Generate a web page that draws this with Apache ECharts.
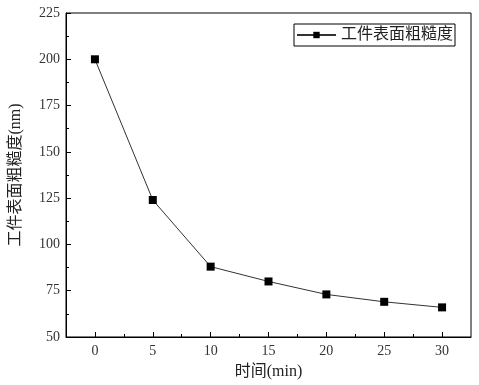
<!DOCTYPE html>
<html>
<head>
<meta charset="utf-8">
<script src="https://cdn.jsdelivr.net/npm/echarts@6/dist/echarts.min.js"></script>
<style>html,body{margin:0;padding:0;background:#fff;}#c{width:479px;height:385px;}</style>
</head>
<body>
<div id="c"></div>
<script>
const times = [0, 5, 10, 15, 20, 25, 30];
const roughness = [200, 124, 88, 80, 73, 69, 66];
const xMajorTicks = [0, 5, 10, 15, 20, 25, 30];
const xMinorTicks = [2.5, 7.5, 12.5, 17.5, 22.5, 27.5];
const seriesName = '工件表面粗糙度';
const xName = '时间(min)';
const yName = '工件表面粗糙度(nm)';

const FONT = "'Liberation Serif','Noto Sans CJK SC'";
const chart = echarts.init(document.getElementById('c'), null, {renderer: 'canvas'});
chart.setOption({
  animation: false,
  backgroundColor: '#fff',
  grid: {left: 65, right: 8, top: 13, bottom: 45, show: true, borderColor: '#000', borderWidth: 1, backgroundColor: 'transparent'},
  legend: {
    left: 294, top: 24,
    padding: [3, 2, 3, 2],
    borderColor: '#000', borderWidth: 1,
    itemWidth: 39, itemHeight: 8,
    textStyle: {fontSize: 16, color: '#222', fontFamily: FONT},
    data: [seriesName]
  },
  xAxis: [{
    type: 'value', min: -2.5, max: 32.5,
    name: xName, nameLocation: 'middle', nameGap: 27,
    nameTextStyle: {fontSize: 16, color: '#222', fontFamily: FONT},
    axisLine: {show: true, onZero: false, lineStyle: {color: '#000', width: 1}},
    axisTick: {show: true, inside: true, length: 5, customValues: xMajorTicks, lineStyle: {color: '#000'}},
    axisLabel: {customValues: xMajorTicks, margin: 7, fontSize: 14, color: '#333', fontFamily: FONT},
    splitLine: {show: false}
  }, {
    type: 'value', min: -2.5, max: 32.5, position: 'bottom', offset: 0,
    axisLine: {show: false, onZero: false},
    axisTick: {show: true, inside: true, length: 3, customValues: xMinorTicks, lineStyle: {color: '#000'}},
    axisLabel: {show: false},
    splitLine: {show: false}
  }],
  yAxis: {
    type: 'value', min: 50, max: 225, interval: 25,
    name: yName, nameLocation: 'middle', nameGap: 42, nameRotate: 90,
    nameTextStyle: {fontSize: 16, color: '#222', fontFamily: FONT},
    axisLine: {show: true, onZero: false, lineStyle: {color: '#000', width: 1}},
    axisTick: {show: true, inside: true, length: 5, lineStyle: {color: '#000'}},
    minorTick: {show: true, splitNumber: 2, length: 3, lineStyle: {color: '#000'}},
    axisLabel: {margin: 6, fontSize: 14, color: '#333', fontFamily: FONT},
    splitLine: {show: false}
  },
  series: [{
    name: seriesName,
    type: 'line',
    xAxisIndex: 0,
    data: times.map((t, i) => [t, roughness[i]]),
    symbol: 'rect', symbolSize: 8,
    itemStyle: {color: '#000'},
    lineStyle: {color: '#333', width: 1},
    smooth: false
  }]
});
</script>
</body>
</html>
